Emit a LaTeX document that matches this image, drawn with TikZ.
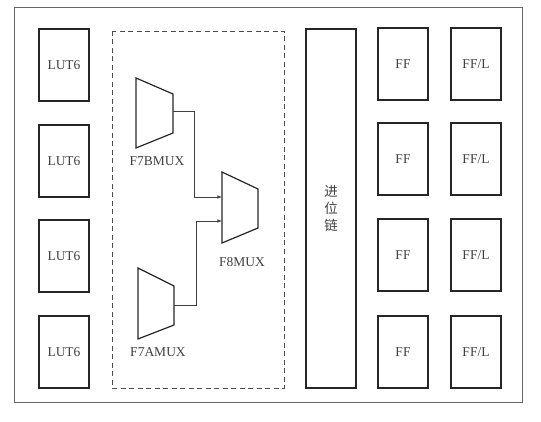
\documentclass[tikz,border=0pt]{standalone}
\usepackage{fontspec}
\setmainfont{Liberation Serif}
\newfontfamily\cjk{Noto Sans CJK SC}
\begin{document}
\tikzset{
    cell/.style={draw=black!85, line width=1.2pt, minimum width=50pt, minimum height=72pt, inner sep=0pt, text=black!75, font=\fontsize{13.5}{15}\selectfont},
    mux/.style={draw=black!85, line width=1.2pt, line join=miter},
    muxlabel/.style={text=black!75, font=\fontsize{13.5}{15}\selectfont},
    wire/.style={draw=black!75, line width=0.6pt},
}
\begin{tikzpicture}[x=1pt, y=-1pt]
    \useasboundingbox (0,0) rectangle (541,422);
    \draw[black!60, line width=0.8pt] (14,7) rectangle (522,402);
    \draw[black!70, line width=0.8pt, dash pattern=on 5pt off 3.5pt] (112,31) rectangle (284,388);
    % LUT column
    \node[cell] (lut1) at (64,65) {LUT6};
    \node[cell] (lut2) at (64,161) {LUT6};
    \node[cell] (lut3) at (64,256) {LUT6};
    \node[cell] (lut4) at (64,352) {LUT6};
    % muxes
    \draw[mux] (136,78) -- (173,94) -- (173,133) -- (136,148) -- cycle;
    \coordinate (f7b-out) at (173,111);
    \node[muxlabel] (f7b) at (157,161) {F7BMUX};
    \draw[mux] (138,268) -- (174,286) -- (174,325) -- (138,339) -- cycle;
    \coordinate (f7a-out) at (174,305);
    \node[muxlabel] (f7a) at (158,352) {F7AMUX};
    \draw[mux] (222,172) -- (258,189) -- (258,228) -- (222,243) -- cycle;
    \coordinate (f8-in1) at (222,197);
    \coordinate (f8-in2) at (222,221);
    \node[muxlabel] (f8) at (242,262) {F8MUX};
    \draw[wire, -latex] (f7b-out) -| (194,197) -- (f8-in1);
    \draw[wire, -latex] (f7a-out) -| (196,221) -- (f8-in2);
    % carry chain
    \node[cell, minimum height=359pt, font=\cjk\fontsize{13.5}{17}\selectfont, align=center] (carry) at (331,208.5) {进\\位\\链};
    % flip-flops
    \node[cell] (ff1) at (403,64) {FF};
    \node[cell] (ff2) at (403,159) {FF};
    \node[cell] (ff3) at (403,255) {FF};
    \node[cell] (ff4) at (403,352) {FF};
    \node[cell] (ffl1) at (476,64) {FF/L};
    \node[cell] (ffl2) at (476,159) {FF/L};
    \node[cell] (ffl3) at (476,255) {FF/L};
    \node[cell] (ffl4) at (476,352) {FF/L};
\end{tikzpicture}
\end{document}
